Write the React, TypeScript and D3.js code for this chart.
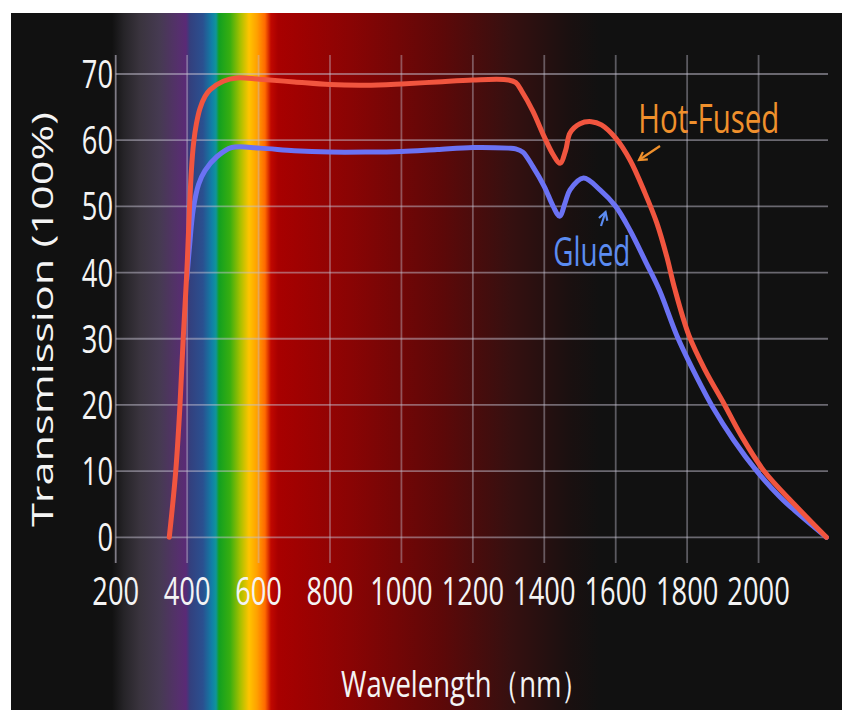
import * as d3 from "d3";

const W = 845;
const H = 710;

// Hot-Fused curve
const hotFusedNm = [350, 368, 380, 389, 399, 406, 412, 418, 426, 436, 450, 464, 501, 539, 604, 700, 800, 900, 1000, 1100, 1200, 1300, 1320, 1337, 1368, 1400, 1425, 1444, 1460, 1472, 1500, 1532, 1560, 1600, 1640, 1682, 1715, 1743, 1765, 1805, 1850, 1905, 1950, 2017, 2100, 2190];
const hotFusedPct = [0, 9.9, 20, 30, 39.9, 49, 55.5, 59.5, 62.5, 64.8, 66.6, 67.6, 68.9, 69.4, 69.2, 68.8, 68.4, 68.3, 68.5, 68.8, 69.1, 69.1, 68.7, 67.4, 64.4, 60.5, 57.8, 56.5, 58.5, 61.1, 62.5, 62.8, 62.3, 60.3, 57, 52, 47.5, 42.4, 37.6, 30.5, 25.3, 20, 15.5, 9.9, 5, 0];

// Glued curve
const gluedNm = [399, 406, 417, 432, 450, 483, 525, 604, 700, 800, 900, 1000, 1100, 1200, 1300, 1320, 1340, 1368, 1400, 1425, 1443, 1458, 1472, 1510, 1556, 1600, 1640, 1686, 1722, 1775, 1840, 1868, 1930, 1995, 2060, 2100, 2190];
const gluedPct = [39, 43.5, 49.5, 53.3, 55.4, 57.5, 58.9, 58.8, 58.4, 58.2, 58.2, 58.3, 58.6, 58.9, 58.8, 58.7, 58.2, 56, 53, 50, 48.5, 50.5, 52.5, 54.3, 52.5, 50, 46.4, 41.4, 37.4, 30, 22.8, 20, 14.7, 10, 6.1, 4.1, 0];

const xTicks = [200, 400, 600, 800, 1000, 1200, 1400, 1600, 1800, 2000];
const yTicks = [0, 10, 20, 30, 40, 50, 60, 70];

// spectrum band colours (pixel offsets along the x axis)
const spectrum: [number, string][] = [
  [112, "#111111"],
  [124, "#262428"],
  [140, "#3a343e"],
  [160, "#463a52"],
  [178, "#55306c"],
  [186, "#5a2a76"],
  [190, "#33407e"],
  [203, "#2a5090"],
  [212, "#1080a6"],
  [216, "#10949a"],
  [219, "#12a020"],
  [230, "#38ae10"],
  [240, "#a4c000"],
  [249, "#ffc400"],
  [257, "#ffa000"],
  [265, "#ff6a00"],
  [271, "#c00800"],
  [278, "#a80000"],
  [350, "#8a0404"],
  [440, "#5e0808"],
  [510, "#361010"],
  [570, "#1a1010"],
  [600, "#111111"],
];

export default function App() {
  const x = d3.scaleLinear().domain([200, 2200]).range([115.7, 830]);
  const y = d3.scaleLinear().domain([0, 70]).range([537.3, 74]);

  const line = d3
    .line<[number, number]>()
    .x((d) => x(d[0]))
    .y((d) => y(d[1]))
    .curve(d3.curveCatmullRom.alpha(0.5));

  const hot = hotFusedNm.map((n, i) => [n, hotFusedPct[i]] as [number, number]);
  const glued = gluedNm.map((n, i) => [n, gluedPct[i]] as [number, number]);

  const gridTop = 55;
  const gridBottom = 563;
  const font = "'Open Sans', 'Noto Sans', sans-serif";

  return (
    <svg width={W} height={H} style={{ position: "absolute", left: 0, top: 0, background: "#fff" }}>
      <defs>
        <linearGradient id="spec" gradientUnits="userSpaceOnUse" x1={0} x2={W} y1={0} y2={0}>
          {spectrum.map(([px, c], i) => (
            <stop key={i} offset={px / W} stopColor={c} />
          ))}
        </linearGradient>
        <marker id="arrO" viewBox="0 0 10 10" refX={8} refY={5} markerWidth={5} markerHeight={5} orient="auto">
          <path d="M1,1 L8,5 L1,9" fill="none" stroke="#f0902c" strokeWidth={2} />
        </marker>
        <marker id="arrB" viewBox="0 0 10 10" refX={8} refY={5} markerWidth={5} markerHeight={5} orient="auto">
          <path d="M1,1 L8,5 L1,9" fill="none" stroke="#5b8cf2" strokeWidth={2} />
        </marker>
      </defs>

      <rect x={11} y={13} width={831} height={H - 13} fill="#111111" />
      <rect x={11} y={13} width={831} height={H - 13} fill="url(#spec)" />

      {/* grid */}
      <g stroke="#c4c0d0" strokeOpacity={0.5} strokeWidth={1.8}>
        {yTicks.map((t) => (
          <line key={"h" + t} x1={x(200)} x2={828} y1={y(t)} y2={y(t)} />
        ))}
        {xTicks.map((t) => (
          <line key={"v" + t} x1={x(t)} x2={x(t)} y1={gridTop} y2={gridBottom} strokeOpacity={t === 200 ? 0.6 : 0.42} />
        ))}
      </g>

      {/* curves */}
      <path d={line(glued) ?? ""} fill="none" stroke="#6b72f4" strokeWidth={5} strokeLinecap="round" />
      <path d={line(hot) ?? ""} fill="none" stroke="#f1553f" strokeWidth={5} strokeLinecap="round" />

      {/* tick labels */}
      <g fill="#f4f4f4" fontFamily={font} fontSize={39}>
        {xTicks.map((t) => (
          <g key={"xl" + t} transform={`translate(${x(t)},605) scale(0.7,1)`}>
            <text textAnchor="middle">{t}</text>
          </g>
        ))}
        {yTicks.map((t) => (
          <g key={"yl" + t} transform={`translate(113,${y(t)}) scale(0.7,1)`}>
            <text textAnchor="end" dy="0.36em">{t}</text>
          </g>
        ))}
      </g>

      {/* axis titles */}
      <text
        transform="translate(53,319.5) rotate(-90)"
        textAnchor="middle"
        fill="#f4f4f4"
        fontFamily={font}
        fontSize={29.5}
        textLength={415}
        lengthAdjust="spacingAndGlyphs"
      >
        Transmission (100%)
      </text>
      <text
        x={465}
        y={697}
        textAnchor="middle"
        fill="#f4f4f4"
        fontFamily={font}
        fontSize={37}
        textLength={248}
        lengthAdjust="spacingAndGlyphs"
      >
        Wavelength（nm）
      </text>

      {/* annotations */}
      <text x={638.3} y={132.7} fill="#f0902c" fontFamily={font} fontSize={40} textLength={141} lengthAdjust="spacingAndGlyphs">
        Hot-Fused
      </text>
      <line x1={660} y1={146} x2={639} y2={160} stroke="#f0902c" strokeWidth={2.2} markerEnd="url(#arrO)" />
      <text x={553.3} y={266} fill="#5b8cf2" fontFamily={font} fontSize={40} textLength={77} lengthAdjust="spacingAndGlyphs">
        Glued
      </text>
      <line x1={601} y1={226} x2={605.5} y2={212} stroke="#5b8cf2" strokeWidth={2.2} markerEnd="url(#arrB)" />
    </svg>
  );
}
